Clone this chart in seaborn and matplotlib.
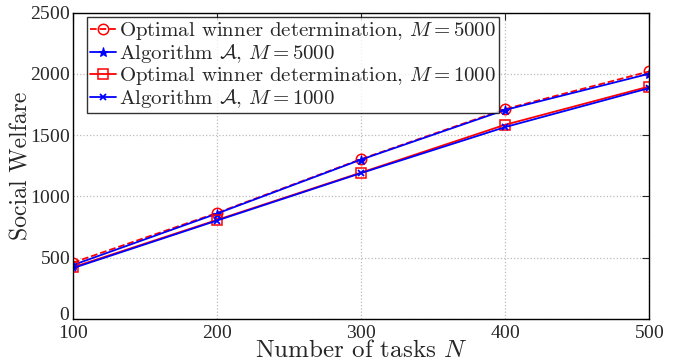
import matplotlib
matplotlib.use("Agg")
import matplotlib.pyplot as plt
import matplotlib.transforms as mtransforms
import seaborn as sns
import pandas as pd

# Social welfare versus number of tasks
tasks = [100, 200, 300, 400, 500]
opt_m5000 = [460, 865, 1304, 1712, 2019]
alg_m5000 = [440, 860, 1300, 1705, 2000]
opt_m1000 = [422, 808, 1194, 1584, 1896]
alg_m1000 = [415, 803, 1190, 1565, 1883]

labels = [
    r"Optimal winner determination, $M = 5000$",
    r"Algorithm $\mathcal{A}$, $M = 5000$",
    r"Optimal winner determination, $M = 1000$",
    r"Algorithm $\mathcal{A}$, $M = 1000$",
]

sns.set_theme(style="white")
plt.rcParams["font.family"] = ["cmr10"]
plt.rcParams["mathtext.fontset"] = "cm"
plt.rcParams["axes.unicode_minus"] = False
plt.rcParams["axes.formatter.use_mathtext"] = True

fig = plt.figure(figsize=(6.81, 3.62), dpi=100)
ax = fig.add_axes([73 / 681, (362 - 319) / 362, 576 / 681, 306.5 / 362])

series = [
    (opt_m5000, dict(color="red", linestyle="--", marker="o", markersize=7.5,
                     markerfacecolor="none", markeredgecolor="red",
                     markeredgewidth=1.1)),
    (alg_m5000, dict(color="blue", linestyle="-", marker="*", markersize=6.5,
                     markerfacecolor="blue", markeredgecolor="blue",
                     markeredgewidth=0.8)),
    (opt_m1000, dict(color="red", linestyle="-", marker="s", markersize=7,
                     markerfacecolor="none", markeredgecolor="red",
                     markeredgewidth=1.1)),
    (alg_m1000, dict(color="blue", linestyle="-", marker="x", markersize=5,
                     markeredgecolor="blue", markeredgewidth=1.3)),
]

for (vals, style), lab in zip(series, labels):
    df = pd.DataFrame({"N": tasks, "W": vals})
    sns.lineplot(data=df, x="N", y="W", ax=ax, label=lab, linewidth=1.3, **style)

ax.set_xlim(100, 500)
ax.set_ylim(0, 2500)
ax.set_xticks(tasks)
ax.set_yticks(range(0, 2501, 500))
ax.grid(True, color="#bbbbbb", linestyle=":", linewidth=0.9)
for sp in ax.spines.values():
    sp.set_color("black")
    sp.set_linewidth(1.0)
ax.tick_params(direction="in", top=True, right=True, length=5, width=0.8,
               labelsize=14)
ax.tick_params(axis="y", pad=2)
ax.tick_params(axis="x", pad=4)
for t in ax.get_xticklabels() + ax.get_yticklabels():
    t.set_family("Liberation Serif")

# lift the "0" label a little so it sits clear of the "100" below it
zero_label = ax.yaxis.get_major_ticks()[0].label1
zero_label.set_transform(zero_label.get_transform() +
                         mtransforms.ScaledTranslation(0, 4 / 72, fig.dpi_scale_trans))

ax.set_xlabel(r"Number of tasks $N$", fontsize=18, labelpad=-1)
ax.set_ylabel("Social Welfare", fontsize=17, labelpad=-2)

leg = ax.legend(loc="upper left", bbox_to_anchor=(0.0245, 0.985), fontsize=15,
                frameon=True, fancybox=False, borderpad=0.15, labelspacing=0.0,
                handlelength=1.25, handletextpad=0.15, borderaxespad=0.0)
leg.get_frame().set_edgecolor("black")
leg.get_frame().set_linewidth(1.0)

fig.savefig("out.png", dpi=100)
